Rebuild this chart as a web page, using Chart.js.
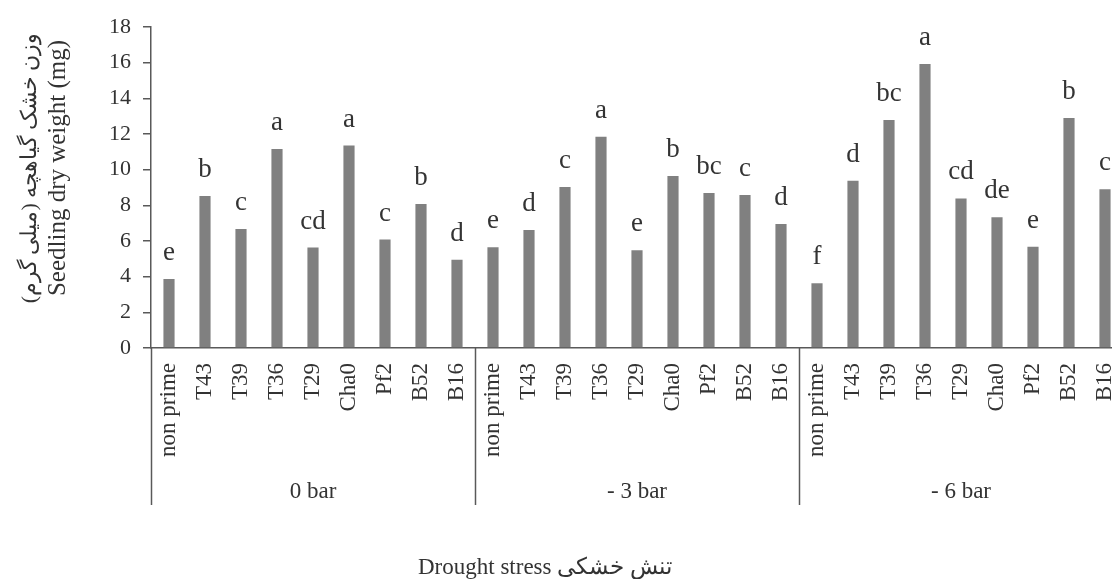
<!DOCTYPE html>
<html>
<head>
<meta charset="utf-8">
<script src="https://cdn.jsdelivr.net/npm/chart.js@4"></script>
<style>
  html, body { margin: 0; padding: 0; background: #fff; overflow: hidden; }
  #chart { display: block; width: 1112px; height: 579px; }
</style>
</head>
<body>
<canvas id="chart" width="1112" height="579"></canvas>
<script>
// treatments and stress levels
const treatments = ['non prime', 'T43', 'T39', 'T36', 'T29', 'Cha0', 'Pf2', 'B52', 'B16'];
const stressLevels = ['0 bar', '- 3 bar', '- 6 bar'];

// seedling dry weight (mg) per stress level
const weight0 = [3.87, 8.52, 6.67, 11.16, 5.63, 11.35, 6.08, 8.08, 4.95];
const weight3 = [5.65, 6.62, 9.03, 11.85, 5.48, 9.65, 8.69, 8.58, 6.95];
const weight6 = [3.63, 9.38, 12.79, 15.93, 8.39, 7.33, 5.68, 12.9, 8.9];

// mean comparison letters
const letters0 = ['e', 'b', 'c', 'a', 'cd', 'a', 'c', 'b', 'd'];
const letters3 = ['e', 'd', 'c', 'a', 'e', 'b', 'bc', 'c', 'd'];
const letters6 = ['f', 'd', 'bc', 'a', 'cd', 'de', 'e', 'b', 'c'];

const yTicks = [0, 2, 4, 6, 8, 10, 12, 14, 16, 18];

const labels = [...treatments, ...treatments, ...treatments];
const values = [...weight0, ...weight3, ...weight6];
const letters = [...letters0, ...letters3, ...letters6];

const SERIF = "'Liberation Serif', 'Times New Roman', serif";
const TEXT = '#333333';
const AXIS = '#595959';
const PLOT_RIGHT = 1123; // the plot runs past the right edge of the picture

// stretch the x axis past the canvas edge, like the original figure
const overhang = {
  id: 'overhang',
  afterLayout(chart) {
    const x = chart.scales.x;
    chart.chartArea.right = PLOT_RIGHT;
    chart.chartArea.width = PLOT_RIGHT - chart.chartArea.left;
    x.right = PLOT_RIGHT;
    x.width = PLOT_RIGHT - x.left;
    x.configure();
  }
};

// letters over bars, group labels, separators and axis titles
const annotations = {
  id: 'annotations',
  afterDatasetsDraw(chart) {
    const ctx = chart.ctx;
    const area = chart.chartArea;
    const x = chart.scales.x;
    const meta = chart.getDatasetMeta(0);

    ctx.save();
    ctx.fillStyle = TEXT;
    ctx.font = '27px ' + SERIF;
    ctx.textAlign = 'center';
    ctx.textBaseline = 'alphabetic';
    meta.data.forEach((bar, i) => {
      ctx.fillText(letters[i], bar.x, bar.y - 19);
    });

    // group separators
    const n = treatments.length;
    const step = x.getPixelForValue(1) - x.getPixelForValue(0);
    const edges = [area.left];
    for (let g = 1; g <= stressLevels.length; g++) {
      edges.push(x.getPixelForValue(g * n - 1) + step / 2);
    }
    ctx.strokeStyle = AXIS;
    ctx.lineWidth = 1.5;
    edges.forEach(ex => {
      ctx.beginPath();
      ctx.moveTo(Math.round(ex) + 0.5, area.bottom);
      ctx.lineTo(Math.round(ex) + 0.5, 505);
      ctx.stroke();
    });

    ctx.font = '23px ' + SERIF;
    stressLevels.forEach((s, g) => {
      ctx.fillText(s, (edges[g] + edges[g + 1]) / 2, 498);
    });

    // x axis title
    ctx.font = '23px ' + SERIF;
    ctx.direction = 'rtl';
    ctx.textAlign = 'center';
    ctx.fillText('تنش خشکی Drought stress', 545, 574);

    // y axis title
    ctx.translate(0, 168);
    ctx.rotate(-Math.PI / 2);
    ctx.textBaseline = 'middle';
    ctx.font = '22px ' + SERIF;
    ctx.direction = 'rtl';
    ctx.fillText('وزن خشک گیاهچه (میلی گرم)', 0, 30);
    ctx.direction = 'ltr';
    ctx.font = '25px ' + SERIF;
    ctx.fillText('Seedling dry weight (mg)', 0, 58);
    ctx.restore();
  }
};

new Chart(document.getElementById('chart').getContext('2d'), {
  type: 'bar',
  data: {
    labels: labels,
    datasets: [{
      data: values,
      backgroundColor: '#808080',
      borderWidth: 0,
      barPercentage: 0.31,
      categoryPercentage: 1
    }]
  },
  options: {
    responsive: false,
    animation: false,
    events: [],
    layout: {
      padding: { left: 80, top: 27, right: 0, bottom: 0 }
    },
    plugins: {
      legend: { display: false },
      tooltip: { enabled: false }
    },
    scales: {
      x: {
        afterFit: s => {
          s.height = 231;
          s.paddingLeft = 0;
          s.paddingRight = 0;
        },
        grid: { display: false, drawTicks: false },
        border: { display: true, color: AXIS, width: 1.5 },
        ticks: {
          autoSkip: false,
          minRotation: 90,
          maxRotation: 90,
          padding: 15,
          color: TEXT,
          font: { family: SERIF, size: 23 }
        }
      },
      y: {
        min: 0,
        max: 18,
        afterFit: s => {
          s.width = 71;
          s.paddingTop = 0;
          s.paddingBottom = 0;
        },
        afterBuildTicks: s => { s.ticks = yTicks.map(v => ({ value: v })); },
        grid: { drawOnChartArea: false, tickLength: 8, color: AXIS, lineWidth: 1.5 },
        border: { display: true, color: AXIS, width: 1.5 },
        ticks: {
          padding: 12,
          color: TEXT,
          font: { family: SERIF, size: 22 }
        }
      }
    }
  },
  plugins: [overhang, annotations]
});
</script>
</body>
</html>
